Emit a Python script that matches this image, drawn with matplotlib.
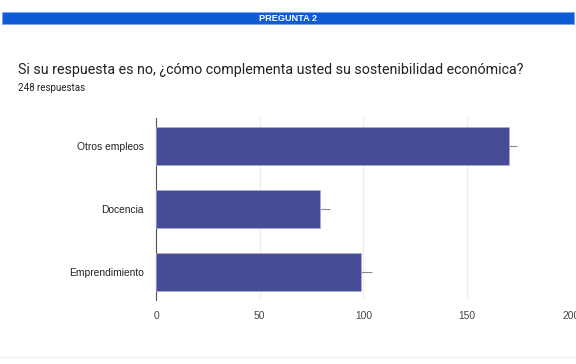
import matplotlib.pyplot as plt
from matplotlib.patches import Rectangle

TITLE    = "Si su respuesta es no, ¿cómo complementa usted su sostenibilidad económica?"
SUBTITLE = "248 respuestas"
HEADER   = "PREGUNTA 2"

CATEGORIES = ["Otros empleos", "Docencia", "Emprendimiento"]
COUNTS     = [170, 79, 99]
SPREAD     = [4, 5, 5]
XTICKS     = [0, 50, 100, 150, 200]

BAR_COLOR  = "#474c97"
BAND_COLOR = "#0d5bd6"

fig = plt.figure(figsize=(5.76, 3.64), dpi=100)
fig.patch.set_facecolor("white")

# blue section band with the question number
fig.patches.append(Rectangle((0.004, 0.934), 0.993, 0.032, transform=fig.transFigure,
                             facecolor=BAND_COLOR, edgecolor="#7ea6ea", linewidth=0.6))
fig.text(0.5, 0.950, HEADER, color="white", fontsize=6.6, fontweight="bold",
         ha="center", va="center", family="Liberation Sans")

fig.text(0.031, 0.808, TITLE, fontsize=10.3, color="#202124", ha="left", va="center",
         family="Roboto")
fig.text(0.031, 0.758, SUBTITLE, fontsize=7, color="#202124", ha="left", va="center",
         family="Roboto")

ax = fig.add_axes([0.271, 0.176, 0.720, 0.500])
pos = list(range(len(CATEGORIES)))
ax.barh(pos, COUNTS, height=0.6, color=BAR_COLOR, edgecolor="#a9acd3",
        linewidth=0.5, zorder=3)
ax.errorbar(COUNTS, pos, xerr=[[0] * len(SPREAD), SPREAD], fmt="none",
            ecolor="#8a8a8a", elinewidth=0.8, capsize=0, zorder=2)

ax.set_xlim(0, 200)
ax.set_ylim(2.444, -0.444)
ax.set_xticks(XTICKS)
ax.set_xticklabels([str(t) for t in XTICKS], fontsize=7.4, color="#444444",
                   family="Liberation Sans")
ax.set_yticks(pos)
ax.set_yticklabels(CATEGORIES, fontsize=7.4, color="#222222", family="Liberation Sans")
ax.tick_params(length=0, pad=8)
ax.tick_params(axis="y", pad=9)
ax.grid(axis="x", color="#ececec", linewidth=0.8, zorder=0)
for side in ["top", "right", "bottom"]:
    ax.spines[side].set_visible(False)
ax.spines["left"].set_color("#555555")
ax.spines["left"].set_linewidth(0.8)

# faint rule closing the card
fig.lines.append(plt.Line2D([0.0, 1.0], [0.02, 0.02], transform=fig.transFigure,
                            color="#eeeeee", linewidth=0.8))

plt.savefig("out.png", dpi=100)
